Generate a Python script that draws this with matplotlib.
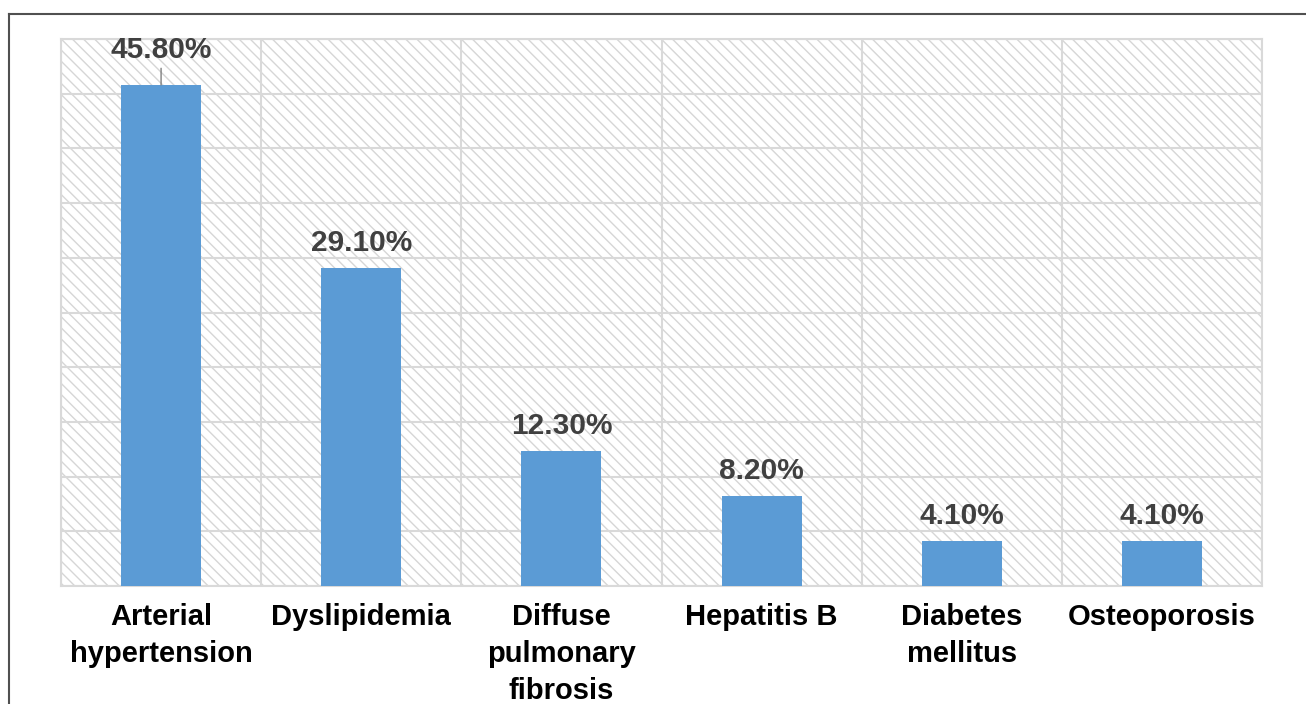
import numpy as np
import matplotlib.pyplot as plt
from matplotlib.patches import Rectangle
from matplotlib.lines import Line2D

categories = ['Arterial\nhypertension', 'Dyslipidemia', 'Diffuse\npulmonary\nfibrosis',
              'Hepatitis B', 'Diabetes\nmellitus', 'Osteoporosis']
values = [45.8, 29.1, 12.3, 8.2, 4.1, 4.1]
labels = ['45.80%', '29.10%', '12.30%', '8.20%', '4.10%', '4.10%']

plt.rcParams['font.family'] = ['Liberation Sans', 'DejaVu Sans']
plt.rcParams['hatch.linewidth'] = 1.0

fig = plt.figure(figsize=(13.06, 7.04), dpi=100)
ax = fig.add_axes([61/1306, 1 - 586/704, (1262-61)/1306, (586-39)/704])

x = np.arange(len(categories))

# hatched background of the plot area
bg = Rectangle((0, 0), 1, 1, transform=ax.transAxes, facecolor='white',
               edgecolor='#d6d6d6', linewidth=0, hatch='\\\\\\', zorder=0)
ax.add_patch(bg)

ax.bar(x, values, width=0.4, color='#5b9bd5', zorder=3)

ax.set_xlim(-0.5, len(categories) - 0.5)
ax.set_ylim(0, 50)
ax.set_yticks(np.arange(0, 51, 5))
ax.set_xticks(np.arange(-0.5, len(categories), 1), minor=True)
ax.grid(True, which='major', axis='y', color='#d9d9d9', linewidth=1.5, zorder=1)
ax.grid(True, which='minor', axis='x', color='#d9d9d9', linewidth=1.5, zorder=1)
ax.set_axisbelow(True)

ax.set_xticks(x)
ax.set_xticklabels(categories, fontsize=21, fontweight='bold', color='black',
                   va='top', linespacing=1.4)
ax.tick_params(axis='x', which='both', length=0, pad=12.5)
ax.tick_params(axis='y', which='both', length=0, labelleft=False)

for s in ax.spines.values():
    s.set_color('#d9d9d9')
    s.set_linewidth(1.5)

for i, (v, lab) in enumerate(zip(values, labels)):
    off = 15 if i == 0 else 8
    ax.annotate(lab, (i, v), xytext=(0, off), textcoords='offset points',
                ha='center', va='bottom', fontsize=21.5, fontweight='bold',
                color='#404040', zorder=5)
    if i == 0:
        ax.annotate('', (i, v), xytext=(0, 12), textcoords='offset points',
                    arrowprops=dict(arrowstyle='-', color='#808080', lw=1.0,
                                    shrinkA=0, shrinkB=0))

# outer frame, open at right and bottom
x0 = 9 / 1306
y0 = 1 - 14 / 704
fig.add_artist(Line2D([x0, 1.0], [y0, y0], transform=fig.transFigure,
                      color='#505050', linewidth=1.5))
fig.add_artist(Line2D([x0, x0], [0.0, y0], transform=fig.transFigure,
                      color='#505050', linewidth=1.5))

fig.savefig('out.png', dpi=100)
